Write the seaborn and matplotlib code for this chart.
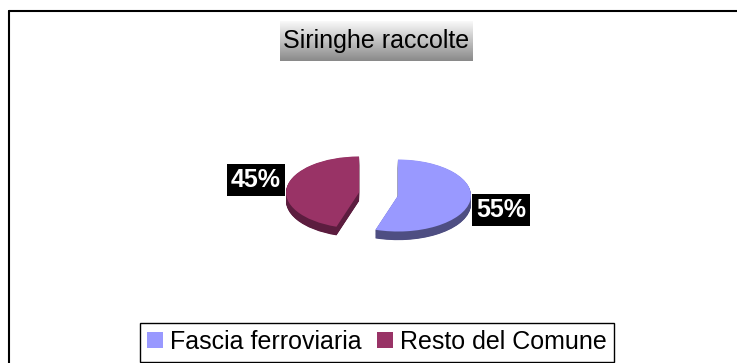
import numpy as np
import matplotlib
matplotlib.use("Agg")
import matplotlib.pyplot as plt
from matplotlib.lines import Line2D
import seaborn as sns

# Data
categories = ["Fascia ferroviaria", "Resto del Comune"]
values = [55, 45]
chart_title = "Siringhe raccolte"

sns.set_theme(style="white")
plt.rcParams["font.family"] = ["Liberation Sans", "DejaVu Sans"]
plt.rcParams["text.color"] = "black"
plt.rcParams["legend.labelcolor"] = "black"

W, H = 737, 363
fig = plt.figure(figsize=(W / 100, H / 100), dpi=100)
fig.patch.set_facecolor("white")

# Main pie axes spanning the whole figure; x and y scaled differently to tilt the pie
ax = fig.add_axes([0, 0, 1, 1])
top_colors = ["#9999ff", "#993366"]
side_colors = ["#4e4e82", "#5c1d3f"]
explode = [0.27, 0.27]
depth = 0.24
n_layers = 20

# Extruded side: stack of darker pies beneath the top face
for k in range(n_layers):
    dy = -depth + depth * k / n_layers
    ax.pie(values, colors=side_colors, startangle=90, counterclock=False,
           explode=explode, center=(0, dy), wedgeprops=dict(linewidth=0))

wedges, _ = ax.pie(values, colors=top_colors, startangle=90, counterclock=False,
                   explode=explode, center=(0, 0), wedgeprops=dict(linewidth=0))

cx, cy, rx, ry = 378.5, 194.0, 73.0, 36.0
ax.set_aspect("auto")
ax.set_xlim(-cx / rx, (W - cx) / rx)
ax.set_ylim((cy - H) / ry, cy / ry)
ax.axis("off")

# Percentage labels
label_pos = [(1.678, -0.444), (-1.678, 0.389)]
for v, (lx, ly) in zip(values, label_pos):
    ax.text(lx, ly, f"{v}%", ha="center", va="center", color="white",
            fontsize=18, fontweight="bold",
            bbox=dict(boxstyle="square,pad=0.17", facecolor="black", edgecolor="none"))

# Title box with vertical gradient
tax = fig.add_axes([280 / W, (H - 61) / H, 193 / W, 40 / H])
grad = np.linspace(0.975, 0.54, 64).reshape(-1, 1)
tax.imshow(grad, cmap="gray", vmin=0, vmax=1, aspect="auto", extent=(0, 1, 0, 1))
tax.set_xlim(0, 1)
tax.set_ylim(0, 1)
tax.axis("off")
tax.text(0.5, 0.5, chart_title, ha="center", va="center", fontsize=18, color="black")

# Legend
leg = fig.legend(handles=wedges, labels=categories, loc="center",
                 bbox_to_anchor=(377 / W, (H - 342) / H), ncol=2, frameon=True,
                 fancybox=False, edgecolor="black", fontsize=18,
                 handlelength=0.64, handleheight=0.64, handletextpad=0.28,
                 columnspacing=0.6, borderpad=0.3, borderaxespad=0)
for t in leg.get_texts():
    t.set_color("black")
leg.get_frame().set_linewidth(1.0)
leg.get_frame().set_facecolor("white")
leg.get_frame().set_alpha(1)

# Outer chart frame (top and left edges visible)
fig.add_artist(Line2D([9 / W, 1.0], [(H - 11) / H] * 2, transform=fig.transFigure,
                      color="black", linewidth=1.5))
fig.add_artist(Line2D([9 / W] * 2, [0.0, (H - 11) / H], transform=fig.transFigure,
                      color="black", linewidth=1.5))

fig.savefig("out.png", dpi=100, facecolor="white")
